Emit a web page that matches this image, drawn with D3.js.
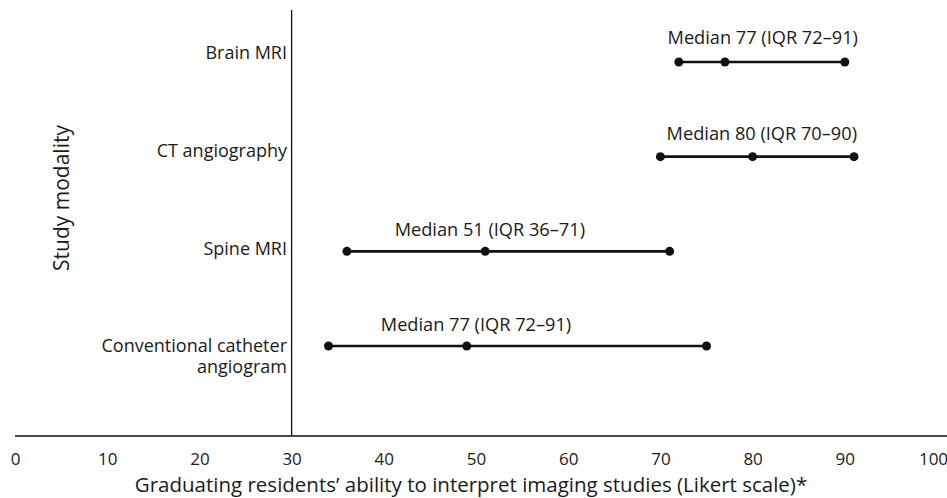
<!DOCTYPE html>
<html><head><meta charset="utf-8">
<script src="https://cdn.jsdelivr.net/npm/d3@7"></script>
<style>body{margin:0;background:#fff;} text{font-family:"Open Sans",sans-serif;fill:#1a1a1a;}</style>
</head><body>
<svg id="c" width="947" height="498"></svg>
<script>
const categories = ["Brain MRI", "CT angiography", "Spine MRI", "Conventional catheter|angiogram"];
const q1 = [72, 70, 36, 34];
const median = [77, 80, 51, 49];
const q3 = [90, 91, 71, 75];
const annotations = ["Median 77 (IQR 72\u201391)", "Median 80 (IQR 70\u201390)", "Median 51 (IQR 36\u201371)", "Median 77 (IQR 72\u201391)"];
const annotationAnchor = [81.1, 81, 51.5, 50];
const xTicks = [0,10,20,30,40,50,60,70,80,90,100];

const svg = d3.select("#c");
const x = d3.scaleLinear().domain([0,100]).range([15, 937]);
const yRow = d3.scalePoint().domain(categories).range([62, 346]);
const yLab = d3.scalePoint().domain(categories).range([53, 346]);
const yAnn = d3.scalePoint().domain(categories).range([38, 325]);

// x axis
const axisY = 436;
const xAxis = d3.axisBottom(x).tickValues(xTicks).tickSize(0).tickPadding(17);
const gx = svg.append("g").attr("transform", `translate(0,${axisY})`).call(xAxis);
gx.select(".domain").attr("d", `M15,0H947`).attr("stroke", "#111").attr("stroke-width", 1.3);
gx.selectAll("text").style("font-family", '"Open Sans",sans-serif').style("font-size", "17px").attr("fill", "#1a1a1a");
gx.selectAll(".tick").filter(d => d === 100).select("text").attr("dx", -4);

// vertical line at 30
svg.append("line").attr("x1", x(30)).attr("x2", x(30)).attr("y1", 10).attr("y2", axisY)
  .attr("stroke", "#111").attr("stroke-width", 1.3);

// axis titles
svg.append("text").attr("x", 471).attr("y", 492).attr("text-anchor", "middle")
  .style("font-size", "20.5px").text("Graduating residents\u2019 ability to interpret imaging studies (Likert scale)*");
svg.append("text").attr("transform", "translate(69,198) rotate(-90)").attr("text-anchor", "middle")
  .style("font-size", "21px").text("Study modality");

// category labels
categories.forEach((c, i) => {
  const lines = c.split("|");
  const t = svg.append("text").attr("x", 287).attr("y", yLab(c)).attr("text-anchor", "end")
    .style("font-size", "18px");
  lines.forEach((l, j) => t.append("tspan").attr("x", 287).attr("dy", j === 0 ? "0.35em" : "1.17em").text(l));
});

// ranges
const g = svg.append("g");
categories.forEach((c, i) => {
  g.append("line").attr("x1", x(q1[i])).attr("x2", x(q3[i])).attr("y1", yRow(c)).attr("y2", yRow(c))
    .attr("stroke", "#111").attr("stroke-width", 2.6);
  [q1[i], median[i], q3[i]].forEach(v => {
    g.append("circle").attr("cx", x(v)).attr("cy", yRow(c)).attr("r", 4.5).attr("fill", "#111");
  });
  svg.append("text").attr("x", x(annotationAnchor[i])).attr("y", yAnn(c)).attr("dy", "0.35em")
    .attr("text-anchor", "middle").style("font-size", "18.2px").text(annotations[i]);
});
</script>
</body></html>
